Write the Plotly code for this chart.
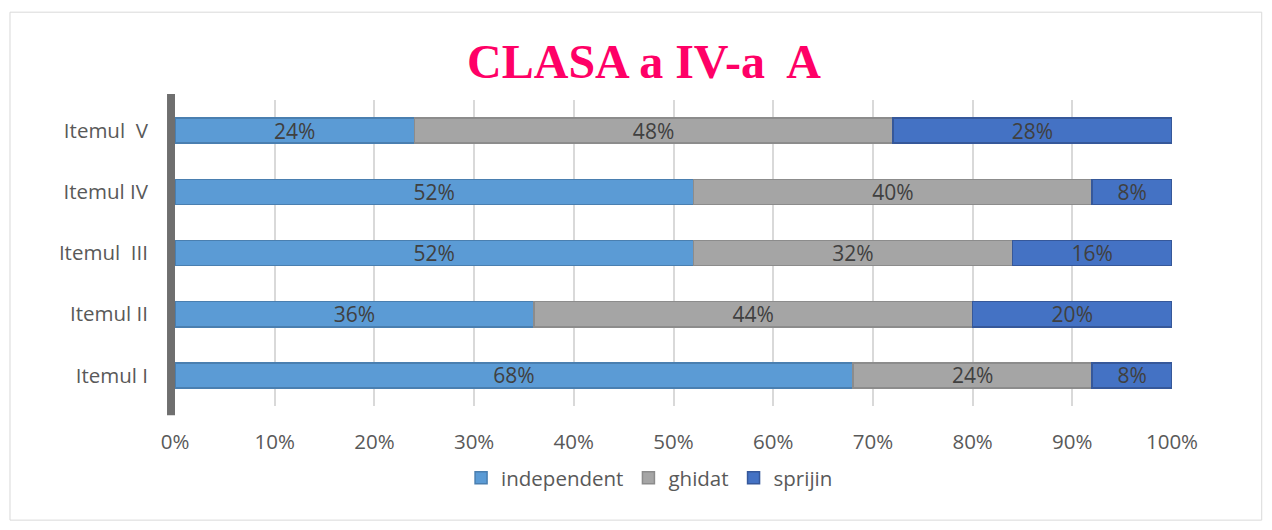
import plotly.graph_objects as go

# data
items = ["Itemul I", "Itemul II", "Itemul\u00a0 III", "Itemul IV", "Itemul\u00a0 V"]
independent = [0.68, 0.36, 0.52, 0.52, 0.24]
ghidat = [0.24, 0.44, 0.32, 0.40, 0.48]
sprijin = [0.08, 0.20, 0.16, 0.08, 0.28]
tick_vals = [0, 0.1, 0.2, 0.3, 0.4, 0.5, 0.6, 0.7, 0.8, 0.9, 1.0]

_BLUE = "#5B9BD5"
_GRAY = "#A5A5A5"
_DARK = "#4472C4"
_PINK = "#FF0066"
_TXT = "#595959"

series = [
    ("independent", independent, _BLUE, "#4A7FB0"),
    ("ghidat", ghidat, _GRAY, "#8C8C8C"),
    ("sprijin", sprijin, _DARK, "#36589A"),
]

fig = go.Figure()
for name, vals, col, edge in series:
    fig.add_trace(go.Bar(
        y=items, x=vals, name=name, orientation="h",
        marker=dict(color=col, line=dict(color=edge, width=1.5)),
        texttemplate="%{x:.0%}", textposition="inside",
        insidetextanchor="middle", constraintext="none",
        textfont=dict(family="Open Sans, sans-serif", size=21, color="#404040"),
        hoverinfo="skip",
    ))

# dark side wall on the category axis and outer chart frame
fig.add_shape(type="rect", xref="paper", yref="paper", x0=-0.008, x1=0, y0=-0.03, y1=1.02,
              fillcolor="#6F6F6F", line=dict(width=0), layer="below")
fig.add_shape(type="rect", xref="paper", yref="paper", x0=-0.1655, x1=1.09, y0=-0.373, y1=1.287,
              line=dict(color="#D9D9D9", width=1), fillcolor="rgba(0,0,0,0)")

fig.update_layout(
    barmode="stack",
    bargap=0.59,
    width=1272, height=530,
    paper_bgcolor="#FFFFFF", plot_bgcolor="#FFFFFF",
    font=dict(family="Open Sans, sans-serif", color=_TXT, size=20),
    title=dict(text="<b>CLASA a IV-a\u00a0 A</b>", x=0.5, xanchor="center", y=0.9, yanchor="middle",
               font=dict(family="Liberation Serif, Times New Roman, serif", size=48, color=_PINK)),
    margin=dict(l=167, r=108, t=92, b=132),
    xaxis=dict(range=[0, 1], tickvals=tick_vals, tickformat=".0%", showgrid=True,
               gridcolor="#D9D9D9", gridwidth=1.5, zeroline=False, showline=False,
               ticks="", ticklabelstandoff=21, tickfont=dict(size=20.5, color=_TXT)),
    yaxis=dict(showgrid=False, zeroline=False, showline=False, ticks="",
               ticklabelstandoff=26, tickfont=dict(size=20.5, color=_TXT)),
    legend=dict(orientation="h", x=0.476, xanchor="center", y=-0.235, yanchor="middle",
                traceorder="normal", font=dict(size=20.5, color=_TXT),
                bgcolor="rgba(0,0,0,0)", itemwidth=30),
)

fig.write_html("out.html")
